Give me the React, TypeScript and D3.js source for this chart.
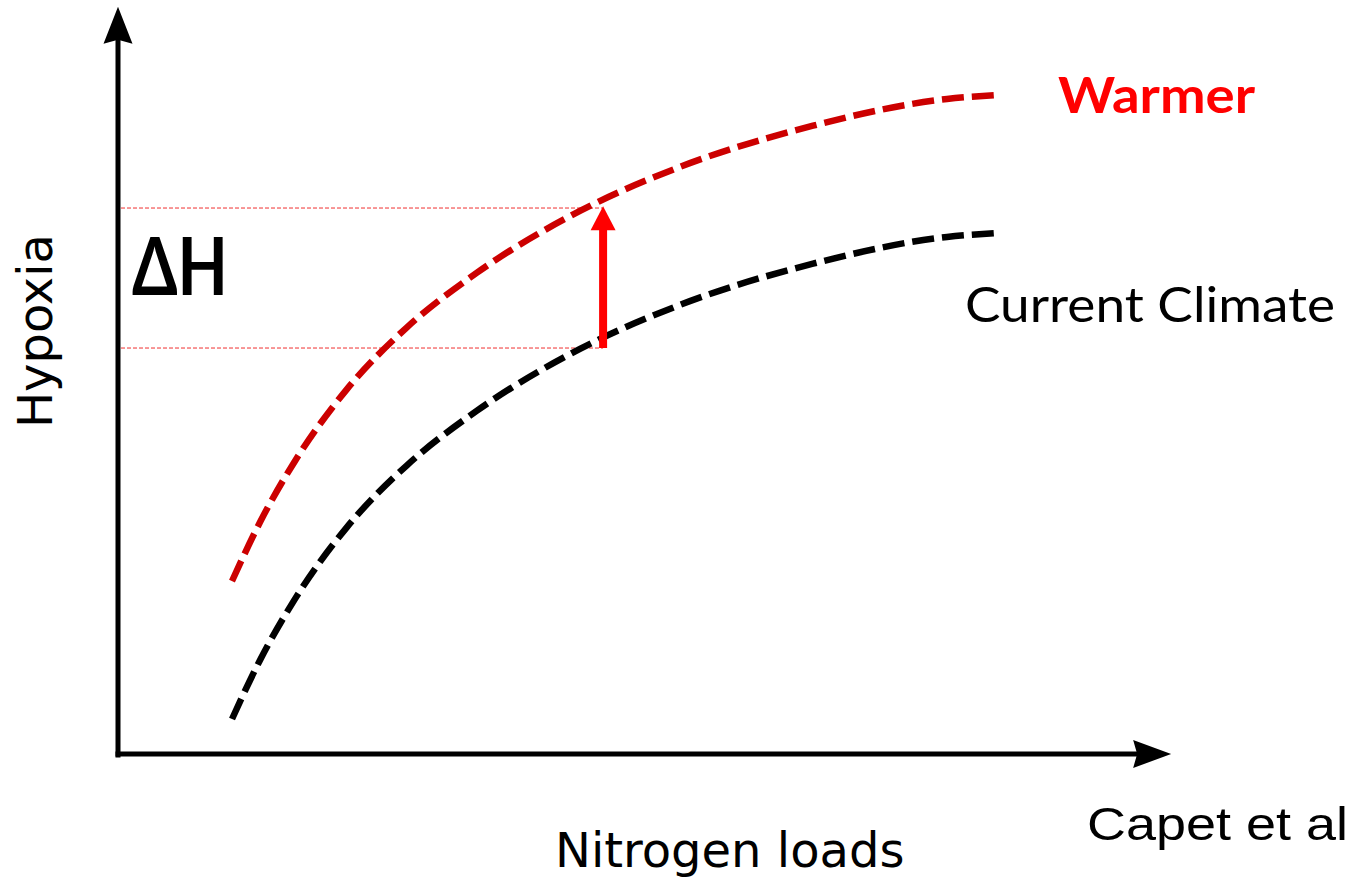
import React from "react";
import * as d3 from "d3";

// Nitrogen loads (x, 0-100) and hypoxia (y, 0-100)
const nitrogen = [10.86, 13.52, 16.86, 21.81, 27.52, 34.19, 44.0, 53.52, 66.19, 78.95, 83.52];
const currentClimate = [5.14, 13.54, 22.3, 32.56, 41.39, 49.19, 58.01, 64.3, 70.19, 74.01, 74.56];
const warmer = [24.85, 33.25, 42.01, 52.27, 61.1, 68.9, 77.72, 84.01, 89.9, 93.72, 94.27];

const deltaX = 46.2;
const deltaLow = 58.14;
const deltaHigh = 78.4;
const deltaLineHigh = 78.14;

const xAxisMax = 100.3;
const yAxisMax = 106.9;

const W = 1349;
const H = 880;

export default function App() {
  const x = d3.scaleLinear().domain([0, 100]).range([118, 1168]);
  const y = d3.scaleLinear().domain([0, 100]).range([755, 55]);

  const line = d3
    .line<[number, number]>()
    .x((d) => x(d[0]))
    .y((d) => y(d[1]))
    .curve(d3.curveMonotoneX);

  const curCurve = line(nitrogen.map((n, i) => [n, currentClimate[i]]) as [number, number][]) || "";
  const warmCurve = line(nitrogen.map((n, i) => [n, warmer[i]]) as [number, number][]) || "";

  const x0 = x(0);
  const y0 = y(0);
  const yTip = y(yAxisMax);
  const xTip = x(xAxisMax);

  // axis arrowheads
  const yHead = `M${x0},${yTip} L${x0 + 14.5},${yTip + 37} L${x0},${yTip + 33} L${x0 - 14.5},${yTip + 37} Z`;
  const xHead = `M${xTip},${y0 - 1} L${xTip - 38},${y0 + 13} L${xTip - 34},${y0 - 1} L${xTip - 38},${y0 - 15} Z`;

  const ax = x(deltaX);
  const aTop = y(deltaHigh);
  const aBot = y(deltaLow);
  const arrowHead = `M${ax},${aTop} L${ax + 12.5},${aTop + 24} L${ax - 12.5},${aTop + 24} Z`;

  return (
    <svg
      width={W}
      height={H}
      style={{ position: "absolute", left: 0, top: 0, background: "#fff" }}
    >
      {/* Delta H guide lines */}
      <line x1={x0 + 3} x2={ax} y1={y(deltaLineHigh)} y2={y(deltaLineHigh)} stroke="#f03030" strokeWidth={1} strokeDasharray="4 2" />
      <line x1={x0 + 3} x2={ax} y1={aBot} y2={aBot} stroke="#f03030" strokeWidth={1} strokeDasharray="4 2" />

      {/* curves */}
      <path d={warmCurve} fill="none" stroke="#cc0000" strokeWidth={6.5} strokeDasharray="22 8" />
      <path d={curCurve} fill="none" stroke="#000" strokeWidth={6.5} strokeDasharray="22 8" />

      {/* red arrow */}
      <line x1={ax} x2={ax} y1={aBot} y2={aTop + 20} stroke="#ff0000" strokeWidth={8} />
      <path d={arrowHead} fill="#ff0000" />

      {/* axes */}
      <line x1={x0} x2={x0} y1={y0 + 2.5} y2={yTip + 30} stroke="#000" strokeWidth={5} />
      <line x1={x0 - 2.5} x2={xTip - 30} y1={y0 - 1} y2={y0 - 1} stroke="#000" strokeWidth={5} />
      <path d={yHead} fill="#000" />
      <path d={xHead} fill="#000" />

      {/* labels */}
      <text
        transform={`translate(52,331) rotate(-90)`}
        textAnchor="middle"
        fontFamily="DejaVu Sans"
        fontSize={48}
        fill="#000"
      >
        Hypoxia
      </text>
      <text x={555} y={867} fontFamily="DejaVu Sans" fontSize={48} fill="#000">
        Nitrogen loads
      </text>
      <text
        x={1087}
        y={840}
        fontFamily="Liberation Sans"
        fontSize={46}
        fill="#000"
        textLength={261}
        lengthAdjust="spacingAndGlyphs"
      >
        Capet et al
      </text>
      <text
        x={1058}
        y={113}
        fontFamily="Lato"
        fontWeight={700}
        fontSize={50}
        fill="#ff0000"
        textLength={197}
        lengthAdjust="spacingAndGlyphs"
      >
        Warmer
      </text>
      <text
        x={965}
        y={322}
        fontFamily="Lato"
        fontSize={48.5}
        fill="#000"
        textLength={370}
        lengthAdjust="spacingAndGlyphs"
      >
        Current Climate
      </text>
      <text
        x={132}
        y={295}
        fontFamily="Lato"
        fontWeight={700}
        fontSize={80}
        fill="#000"
        textLength={96}
        lengthAdjust="spacingAndGlyphs"
      >
        ΔH
      </text>
    </svg>
  );
}
